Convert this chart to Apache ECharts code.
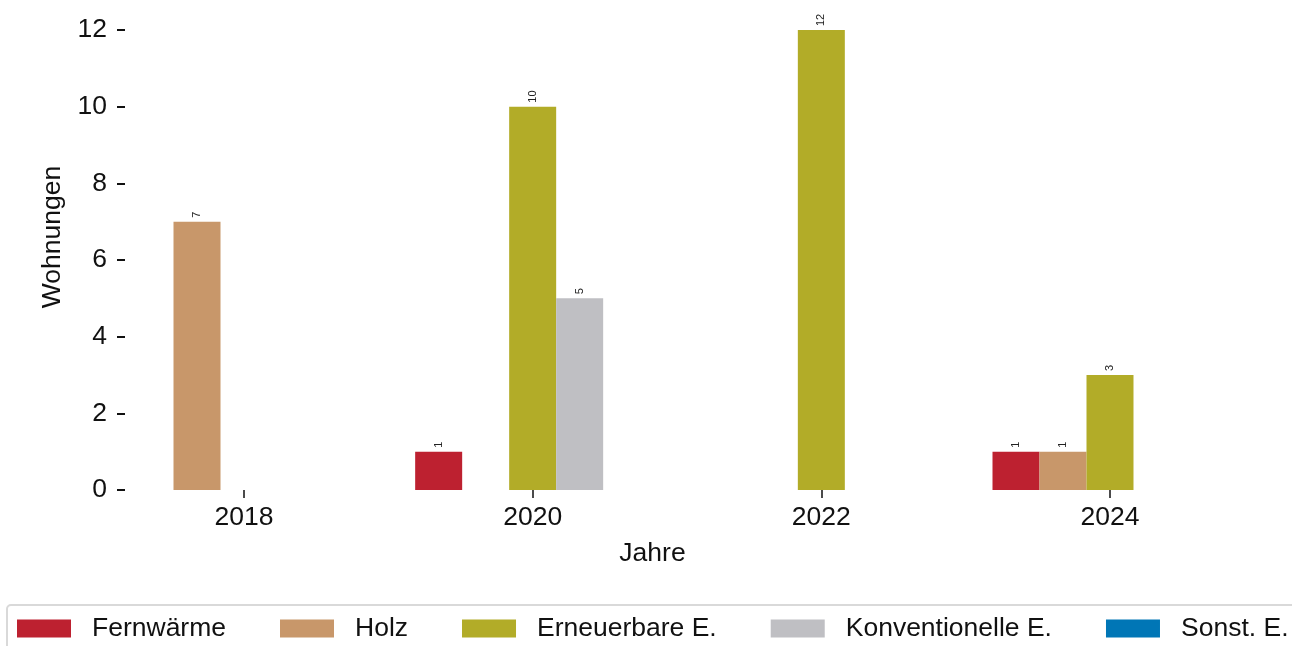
<!DOCTYPE html>
<html lang="de">
<head>
    <meta charset="utf-8">
    <title>Wohnungen nach Energieträger</title>
    <script src="https://cdn.jsdelivr.net/npm/echarts@6/dist/echarts.min.js"></script>
    <style>
        html, body { margin: 0; padding: 0; background: #fff; }
        #main { width: 1292px; height: 646px; }
    </style>
</head>
<body>
<div id="main"></div>
<script>
    // Daten
    var jahre = [2018, 2020, 2022, 2024];
    var fernwaerme = [0, 1, 0, 1];
    var holz = [7, 0, 0, 1];
    var erneuerbare = [0, 10, 12, 3];
    var konventionelle = [0, 5, 0, 0];
    var sonstige = [0, 0, 0, 0];
    var yTicks = [0, 2, 4, 6, 8, 10, 12];

    var namen = ['Fernwärme', 'Holz', 'Erneuerbare E.', 'Konventionelle E.', 'Sonst. E.'];
    var farben = ['#BD2130', '#C8976A', '#B2AC28', '#BFBFC3', '#0076B6'];
    var werte = [fernwaerme, holz, erneuerbare, konventionelle, sonstige];

    var font = 'Liberation Sans, Arial, sans-serif';

    function paare(arr) {
        return jahre.map(function (j, i) { return [j, arr[i]]; });
    }

    var series = namen.map(function (n, k) {
        return {
            name: n,
            type: 'bar',
            data: paare(werte[k]),
            barWidth: 47,
            barGap: '0%',
            itemStyle: { color: farben[k] },
            label: {
                show: true,
                position: 'top',
                rotate: 90,
                align: 'left',
                verticalAlign: 'middle',
                distance: 4,
                fontSize: 11,
                fontFamily: font,
                color: '#222',
                formatter: function (p) { return p.value[1] ? String(p.value[1]) : ''; }
            }
        };
    });

    var myChart = echarts.init(document.getElementById('main'));
    var option = {
        animation: false,
        textStyle: { fontFamily: font },
        grid: { left: 125, right: 112, top: 30, bottom: 156 },
        legend: {
            data: namen,
            left: 7,
            top: 605,
            width: 1400,
            orient: 'horizontal',
            itemWidth: 54,
            itemHeight: 18,
            itemGap: 54,
            padding: [10, 10, 30, 10],
            borderColor: '#d9d9d9',
            borderWidth: 2,
            borderRadius: 4,
            icon: 'rect',
            textStyle: { fontSize: 26.5, color: '#111', fontFamily: font, padding: [0, 0, 0, 16] }
        },
        xAxis: {
            type: 'value',
            min: 2017.1755,
            max: 2024.485,
            name: 'Jahre',
            nameLocation: 'middle',
            nameGap: 50,
            nameTextStyle: { fontSize: 26.5, color: '#111' },
            splitLine: { show: false },
            axisLine: { show: false },
            axisTick: { show: true, length: 8, customValues: jahre, lineStyle: { color: '#111', width: 1.5 } },
            axisLabel: {
                customValues: jahre, fontSize: 26.5, color: '#111', margin: 14,
                formatter: function (v) { return String(v); }
            }
        },
        yAxis: {
            type: 'value',
            min: 0,
            max: 12,
            interval: 2,
            name: 'Wohnungen',
            nameLocation: 'middle',
            nameGap: 56,
            nameTextStyle: { fontSize: 26.5, color: '#111', padding: [0, 0, 0, 46] },
            splitLine: { show: false },
            axisLine: { show: false },
            axisTick: { show: true, length: 8, lineStyle: { color: '#111', width: 2 } },
            axisLabel: { fontSize: 26.5, color: '#111', margin: 18 }
        },
        series: series
    };
    myChart.setOption(option);
</script>
</body>
</html>
